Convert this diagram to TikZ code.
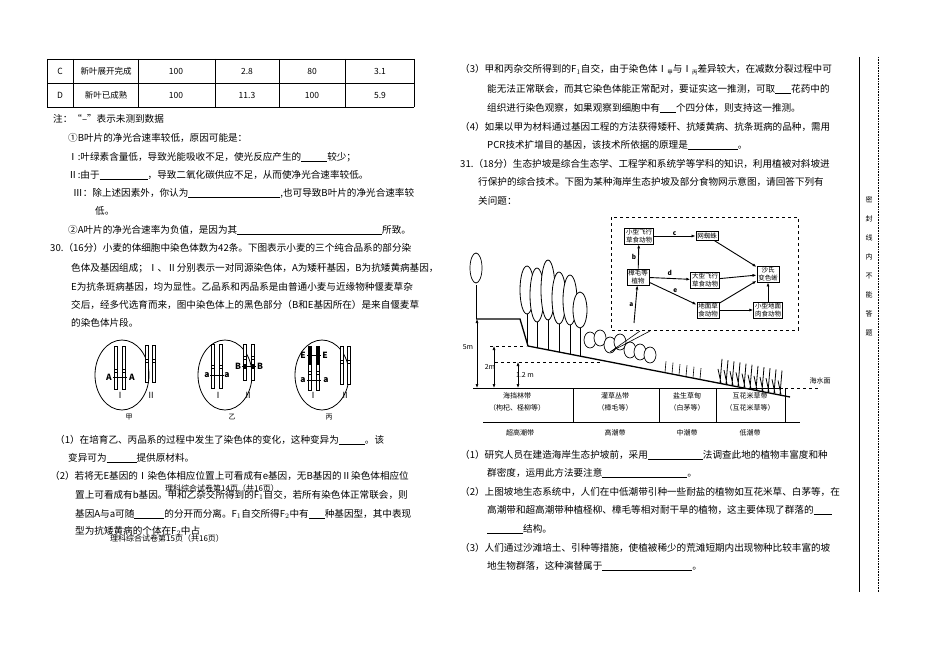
\documentclass[tikz,border=0pt]{standalone}
\usepackage{fontspec}
\setmainfont{Noto Sans CJK SC}
\usetikzlibrary{arrows.meta}
\newcommand{\blk}[1]{\underline{\hspace{#1}}}
\newcommand{\csub}[1]{\raisebox{-2pt}{\fontsize{5.5}{6}\selectfont #1}}
\begin{document}
\begin{tikzpicture}[x=1pt,y=-1pt,
  tx/.style={anchor=west,inner sep=0pt,font=\fontsize{9.6}{11}\selectfont},
  sm/.style={inner sep=0pt,font=\fontsize{7}{8}\selectfont},
  tb/.style={inner sep=0pt,font=\fontsize{8.5}{9}\selectfont},
  fw/.style={draw,inner sep=1.5pt,align=center,font=\fontsize{6.5}{7.5}\selectfont},
  ar/.style={-{Latex[length=4pt]},line width=0.9pt},
  chr/.style={draw,line width=0.5pt,fill=white},
  dimar/.style={{Latex[length=4pt]}-{Latex[length=4pt]},line width=0.6pt}]
\useasboundingbox (0,0) rectangle (950,658);
% table
\draw[line width=0.8pt] (47,59) -- (414,59) (47,83) -- (414,83) (47,107) -- (414,107);
\foreach \x in {47,73,138,215,279,345,414} \draw[line width=0.6pt] (\x,59) -- (\x,107);
\node[tb] (c1) at (60,71) {C};
\node[tb] (c2) at (106,71) {新叶展开完成};
\node[tb] (c3) at (176,71) {100};
\node[tb] (c4) at (247,71) {2.8};
\node[tb] (c5) at (312,71) {80};
\node[tb] (c6) at (380,71) {3.1};
\node[tb] (d1) at (60,95) {D};
\node[tb] (d2) at (106,95) {新叶已成熟};
\node[tb] (d3) at (176,95) {100};
\node[tb] (d4) at (247,95) {11.3};
\node[tb] (d5) at (312,95) {100};
\node[tb] (d6) at (380,95) {5.9};
% left text
\node[tx] (l1) at (53,119) {注：“–”表示未测到数据};
\node[tx] (l2) at (68,138) {①B叶片的净光合速率较低，原因可能是：};
\node[tx] (l3) at (68,157) {Ⅰ:叶绿素含量低，导致光能吸收不足，使光反应产生的\blk{26pt}较少；};
\node[tx] (l4) at (68,175) {Ⅱ:由于\blk{48pt}，导致二氧化碳供应不足，从而使净光合速率较低。};
\node[tx] (l5) at (73,193) {Ⅲ：除上述因素外，你认为\blk{92pt},也可导致B叶片的净光合速率较};
\node[tx] (l6) at (95,211) {低。};
\node[tx] (l7) at (68,230) {②A叶片的净光合速率为负值，是因为其\blk{145pt}所致。};
\node[tx] (l8) at (50,248) {30.（16分）小麦的体细胞中染色体数为42条。下图表示小麦的三个纯合品系的部分染};
\node[tx] (l9) at (71,268) {色体及基因组成；Ⅰ、Ⅱ分别表示一对同源染色体，A为矮秆基因，B为抗矮黄病基因，};
\node[tx] (l10) at (71,287) {E为抗条斑病基因，均为显性。乙品系和丙品系是由普通小麦与近缘物种偃麦草杂};
\node[tx] (l11) at (71,305) {交后，经多代选育而来，图中染色体上的黑色部分（B和E基因所在）是来自偃麦草};
\node[tx] (l12) at (71,323) {的染色体片段。};
% circles
\draw[line width=0.8pt] (122,375) ellipse (27 and 35);
\draw[line width=0.8pt] (225,375) ellipse (27 and 35);
\draw[line width=0.8pt] (322,375) ellipse (27 and 35);
\foreach \x/\t/\b in {116/346/389,124/346/389,147/345/382,154/345/382,213/344/388,221/344/388,245/344/380,253/344/380,310/346/390,318/346/390,342/346/384,349/346/384}
  \draw[chr] (\x-1.5,\t) rectangle (\x+1.5,\b);
\foreach \x/\y in {116/371,124/371,147/361,154/361,213/367,221/367,245/358,253/358,310/373,318/373,342/362,349/362}
  \draw[line width=0.4pt] (\x-1.5,\y-1.5) rectangle (\x+1.5,\y+1.5);
\fill (243.5,364) rectangle (246.5,369); \fill (251.5,364) rectangle (254.5,369);
\fill (308.5,346) rectangle (311.5,365); \fill (316.5,346) rectangle (319.5,365);
\draw[line width=0.6pt] (113,377) -- (127,377) (210,375) -- (224,375) (242,366) -- (256,366) (307,355) -- (321,355) (307,380) -- (321,380);
\node[tb,font=\fontsize{8.5}{9}\selectfont\bfseries] (ga1) at (109,377) {A};
\node[tb,font=\fontsize{8.5}{9}\selectfont\bfseries] (ga2) at (132,377) {A};
\node[tb,font=\fontsize{8.5}{9}\selectfont\bfseries] (ga3) at (207,375) {a};
\node[tb,font=\fontsize{8.5}{9}\selectfont\bfseries] (ga4) at (227,375) {a};
\node[tb,font=\fontsize{8.5}{9}\selectfont\bfseries] (gb1) at (238,366) {B};
\node[tb,font=\fontsize{8.5}{9}\selectfont\bfseries] (gb2) at (260,366) {B};
\node[tb,font=\fontsize{8.5}{9}\selectfont\bfseries] (ge1) at (303,355) {E};
\node[tb,font=\fontsize{8.5}{9}\selectfont\bfseries] (ge2) at (325,355) {E};
\node[tb,font=\fontsize{8.5}{9}\selectfont\bfseries] (ga5) at (303,380) {a};
\node[tb,font=\fontsize{8.5}{9}\selectfont\bfseries] (ga6) at (326,380) {a};
\foreach \x/\s [count=\i] in {120/Ⅰ,151/Ⅱ,218/Ⅰ,248/Ⅱ,313/Ⅰ,345/Ⅱ}
  \node[tb] (rn\i) at (\x,395) {\s};
\node[sm] (cj) at (129,417) {甲};
\node[sm] (cy) at (232,417) {乙};
\node[sm] (cb) at (329,417) {丙};
\node[tx] (q1) at (55,440) {（1）在培育乙、丙品系的过程中发生了染色体的变化，这种变异为\blk{26pt}。该};
\node[tx] (q1b) at (68,458) {变异可为\blk{30pt}提供原材料。};
\node[tx] (q2) at (50,476) {（2）若将无E基因的Ⅰ染色体相应位置上可看成有e基因，无B基因的Ⅱ染色体相应位};
\node[tx,font=\fontsize{8}{9}\selectfont] (ft1) at (165,488) {理科综合试卷第14页（共16页）};
\node[tx] (q2b) at (75,495) {置上可看成有b基因。甲和乙杂交所得到的F$_1$自交，若所有染色体正常联会，则};
\node[tx] (q2c) at (75,514) {基因A与a可随\blk{30pt}的分开而分离。F$_1$自交所得F$_2$中有\blk{16pt}种基因型，其中表现};
\node[tx] (q2d) at (75,531) {型为抗矮黄病的个体在F$_2$中占};
\node[tx,font=\fontsize{8}{9}\selectfont] (ft2) at (110,538) {理科综合试卷第15页（共16页）};
% right column text
\node[tx] (r1) at (460,70) {（3）甲和丙杂交所得到的F$_1$自交，由于染色体Ⅰ\csub{甲}与Ⅰ\csub{丙}差异较大，在减数分裂过程中可};
\node[tx] (r2) at (487,89) {能无法正常联会，而其它染色体能正常配对，要证实这一推测，可取\blk{16pt}花药中的};
\node[tx] (r3) at (487,108) {组织进行染色观察，如果观察到细胞中有\blk{16pt}个四分体，则支持这一推测。};
\node[tx] (r4) at (460,127) {（4）如果以甲为材料通过基因工程的方法获得矮秆、抗矮黄病、抗条斑病的品种，需用};
\node[tx] (r5) at (487,145) {PCR技术扩增目的基因，该技术所依据的原理是\blk{50pt}。};
\node[tx] (r6) at (460,164) {31.（18分）生态护坡是综合生态学、工程学和系统学等学科的知识，利用植被对斜坡进};
\node[tx] (r7) at (478,182) {行保护的综合技术。下图为某种海岸生态护坡及部分食物网示意图，请回答下列有};
\node[tx] (r8) at (478,201) {关问题：};
% ground
\draw[line width=1pt] (473,388) -- (783,388);
\draw[line width=1pt] (483,422) -- (800,422);
\foreach \x in {573,659,716,785} \draw[line width=0.7pt] (\x,388) -- (\x,422);
\draw[line width=1.3pt] (476,319) -- (520,319) -- (528,346) -- (790,397);
\draw[dashed,line width=0.7pt] (490,346) -- (526,346);
\draw[dashed,line width=0.7pt] (495,362) -- (600,362);
\draw[dashed,line width=0.8pt] (785,388) -- (818,388);
\coordinate (g5a) at (477,388); \coordinate (g5b) at (477,319);
\coordinate (g2a) at (494,388); \coordinate (g2b) at (494,346);
\coordinate (g1a) at (518,388); \coordinate (g1b) at (518,362);
\draw[dimar] (g5a) -- (g5b); \draw[dimar] (g2a) -- (g2b); \draw[dimar] (g1a) -- (g1b);
\node[sm] (m5) at (468,347) {5m};
\node[sm] (m2) at (490,367) {2m};
\node[sm] (m12) at (525,375) {1.2 m};
\node[sm] (sea) at (820,381) {海水面};
% trees
\draw[line width=0.7pt] (476,319) -- (476,285);
\draw[line width=0.7pt,fill=white] (476,268) ellipse (6 and 15);
\foreach \x/\y/\h in {527/290/24,537/295/27,548/290/30,559/298/26,570/300/25,580/310/18}{
  \draw[line width=0.7pt] (\x,\y+\h) -- (\x,{346+0.19*(\x-528)});
  \draw[line width=0.8pt,fill=white] (\x,\y) ellipse (7 and \h);}
\foreach \x/\y in {590/340,600/338,610/345,620/342,630/350,640/352,650/355}
  \draw[line width=0.7pt,fill=white] (\x,\y) ellipse (6 and 8);
\foreach \x in {720,726,...,784}
  \draw[line width=0.8pt] (\x,{346+0.1925*(\x-528)}) -- (\x+2,{340+0.1925*(\x-528)-18}) (\x+1,{346+0.1925*(\x-528)}) -- (\x-2,{346+0.1925*(\x-528)-14});
\foreach \x in {665,672,...,700}
  \draw[line width=0.6pt] (\x,{346+0.1925*(\x-528)}) -- (\x+1,{340+0.1925*(\x-528)-5});
% callout lines
\coordinate (co1) at (610,352); \coordinate (co2) at (640,331); \coordinate (co3) at (650,331);
\draw[line width=0.6pt] (co2) -- (co1) -- (co3);
% food web
\draw[dashed,line width=1pt] (611,217) rectangle (798,330);
\node[fw] (sf) at (639,236) {小型飞行\\草食动物};
\node[fw] (wz) at (707,236) {网蜘蛛};
\node[fw] (zm) at (638,277) {樟毛等\\植物};
\node[fw] (df) at (705,280) {大型飞行\\草食动物};
\node[fw] (sx) at (768,274) {沙氏\\变色蜥};
\node[fw] (dm) at (708,310) {地面草\\食动物};
\node[fw] (xr) at (768,310) {小型地面\\肉食动物};
\coordinate (abot) at (634,323);
\draw[ar] (sf) -- node[above,sm,font=\fontsize{6.5}{7}\selectfont\bfseries] (lc) {c} (wz);
\draw[ar] (zm) -- node[left,sm,font=\fontsize{6.5}{7}\selectfont\bfseries,xshift=-2pt] (lb) {b} (sf);
\draw[ar] (zm) -- node[above,sm,font=\fontsize{6.5}{7}\selectfont\bfseries,yshift=2pt] (ld) {d} (df);
\draw[ar] (zm) -- node[above right,sm,font=\fontsize{6.5}{7}\selectfont\bfseries] (le) {e} (dm);
\draw[ar] (abot) -- node[left,sm,font=\fontsize{6.5}{7}\selectfont\bfseries,xshift=-2pt] (la) {a} (zm);
\draw[ar] (wz) -- (sx);
\draw[ar] (df) -- (sx);
\draw[ar] (dm) -- (sx);
\draw[ar] (dm) -- (xr);
\draw[ar] (xr) -- (sx);
% band labels
\node[sm] (b1) at (517,396) {海挡林带};
\node[sm] (b1b) at (517,408) {（枸杞、柽柳等）};
\node[sm] (b2) at (615,396) {灌草丛带};
\node[sm] (b2b) at (615,408) {（樟毛等）};
\node[sm] (b3) at (687,396) {盐生草甸};
\node[sm] (b3b) at (687,408) {（白茅等）};
\node[sm] (b4) at (750,396) {互花米草带};
\node[sm] (b4b) at (750,408) {（互花米草等）};
\node[sm] (z1) at (520,433) {超高潮带};
\node[sm] (z2) at (615,433) {高潮带};
\node[sm] (z3) at (687,433) {中潮带};
\node[sm] (z4) at (750,433) {低潮带};
% right bottom questions
\node[tx] (s1) at (460,455) {（1）研究人员在建造海岸生态护坡前，采用\blk{55pt}法调查此地的植物丰富度和种};
\node[tx] (s1b) at (487,473) {群密度，运用此方法要注意\blk{85pt}。};
\node[tx] (s2) at (460,492) {（2）上图坡地生态系统中，人们在中低潮带引种一些耐盐的植物如互花米草、白茅等，在};
\node[tx] (s2b) at (487,510) {高潮带和超高潮带种植柽柳、樟毛等相对耐干旱的植物，这主要体现了群落的\blk{18pt}};
\node[tx] (s2c) at (487,529) {\blk{36pt}结构。};
\node[tx] (s3) at (460,548) {（3）人们通过沙滩培土、引种等措施，使植被稀少的荒滩短期内出现物种比较丰富的坡};
\node[tx] (s3b) at (487,566) {地生物群落，这种演替属于\blk{90pt}。};
% margin
\draw[line width=0.9pt] (859,57) -- (859,592);
\draw[densely dotted,line width=0.6pt] (878,57) -- (878,592);
\foreach \c [count=\i] in {密,封,线,内,不,能,答,题}
  \node[sm] (v\i) at (869,{200+19*(\i-1)}) {\c};
\end{tikzpicture}
\end{document}
